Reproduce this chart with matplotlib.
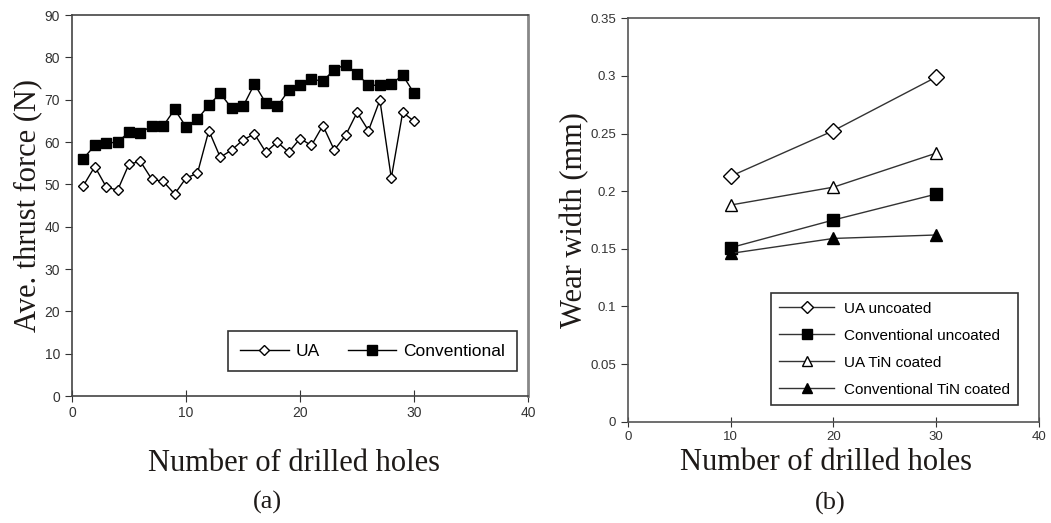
import numpy as np
import matplotlib.pyplot as plt

plt.rcParams['font.family'] = 'Liberation Sans'

# (a) average thrust force per hole
holes = list(range(1, 31))
ua_force = [49.7, 54.2, 49.4, 48.6, 54.8, 55.4, 51.2, 50.7, 47.7, 51.5,
            52.6, 62.7, 56.4, 58.1, 60.5, 61.9, 57.6, 60.0, 57.6, 60.8,
            59.2, 63.9, 58.1, 61.6, 67.0, 62.7, 69.9, 51.5, 67.0, 64.9]
conv_force = [56.1, 59.2, 59.7, 60.0, 62.3, 62.2, 63.8, 63.8, 67.7, 63.6,
              65.4, 68.7, 71.5, 68.0, 68.4, 73.7, 69.2, 68.4, 72.2, 73.4,
              74.8, 74.4, 77.1, 78.3, 76.1, 73.4, 73.4, 73.7, 75.8, 71.5]

# (b) wear width
wear_holes = [10, 20, 30]
ua_uncoated = [0.213, 0.2525, 0.299]
conv_uncoated = [0.151, 0.175, 0.1975]
ua_tin = [0.188, 0.2035, 0.233]
conv_tin = [0.146, 0.159, 0.162]

serif = 'Liberation Serif'
lab_col = '#1e1a18'
tick_col = '#333333'

fig = plt.figure(figsize=(10.51, 5.23), dpi=100)

# ---- (a)
ax1 = fig.add_axes([0.0685, 0.2428, 0.434, 0.7285])
ax1.plot(holes, ua_force, color='black', lw=1, marker='D', ms=5.5,
         mfc='white', mec='black', mew=1, label='UA')
ax1.plot(holes, conv_force, color='black', lw=1, marker='s', ms=7,
         mfc='black', mec='black', label='Conventional')
ax1.set_xlim(0, 40)
ax1.set_ylim(0, 90)
ax1.set_xticks([0, 10, 20, 30, 40])
ax1.set_yticks(np.arange(0, 91, 10))
ax1.tick_params(axis='x', direction='inout', length=8, labelsize=10, colors=tick_col)
ax1.tick_params(axis='y', direction='out', length=5, labelsize=10, colors=tick_col)
ax1.set_ylabel('Ave. thrust force (N)', fontsize=22, family=serif, color=lab_col, labelpad=2)
for s in ax1.spines.values():
    s.set_color('#444444')
    s.set_linewidth(1.2)
ax1.spines['right'].set_color('#888888')
ax1.spines['right'].set_linewidth(2)
leg1 = ax1.legend(loc='lower right', bbox_to_anchor=(0.976, 0.066), ncol=2,
                  fontsize=12.5, frameon=True, fancybox=False, edgecolor='black',
                  handlelength=2.8, columnspacing=1.6, borderpad=0.7,
                  handletextpad=0.4, borderaxespad=0)
leg1.get_frame().set_linewidth(1.2)
fig.text(0.28, 0.113, 'Number of drilled holes', ha='center', va='center',
         fontsize=22, family=serif, color=lab_col)
fig.text(0.254, 0.04, '(a)', ha='center', va='center', fontsize=19,
         family=serif, color=lab_col)

# ---- (b)
ax2 = fig.add_axes([0.5975, 0.1937, 0.391, 0.7713])
ax2.plot(wear_holes, ua_uncoated, color='#333333', lw=1, marker='D', ms=8,
         mfc='white', mec='black', label='UA uncoated')
ax2.plot(wear_holes, conv_uncoated, color='#333333', lw=1, marker='s', ms=9,
         mfc='black', mec='black', label='Conventional uncoated')
ax2.plot(wear_holes, ua_tin, color='#333333', lw=1, marker='^', ms=9,
         mfc='white', mec='black', label='UA TiN coated')
ax2.plot(wear_holes, conv_tin, color='#333333', lw=1, marker='^', ms=9,
         mfc='black', mec='black', label='Conventional TiN coated')
ax2.set_xlim(0, 40)
ax2.set_ylim(0, 0.35)
ax2.set_xticks([0, 10, 20, 30, 40])
ax2.set_yticks([0, 0.05, 0.1, 0.15, 0.2, 0.25, 0.3, 0.35])
ax2.set_yticklabels(['0', '0.05', '0.1', '0.15', '0.2', '0.25', '0.3', '0.35'])
ax2.tick_params(axis='x', direction='inout', length=7, labelsize=9.5, colors=tick_col)
ax2.tick_params(axis='y', direction='out', length=5, labelsize=9.5, colors=tick_col)
ax2.set_ylabel('Wear width (mm)', fontsize=22, family=serif, color=lab_col, labelpad=1)
for s in ax2.spines.values():
    s.set_color('#555555')
    s.set_linewidth(1.2)
leg2 = ax2.legend(loc='lower right', bbox_to_anchor=(0.949, 0.041), fontsize=11,
                  frameon=True, fancybox=False, edgecolor='black', markerscale=0.8,
                  handlelength=3.6, borderpad=0.55, labelspacing=0.85,
                  handletextpad=0.6, borderaxespad=0)
leg2.get_frame().set_linewidth(1.2)
fig.text(0.786, 0.115, 'Number of drilled holes', ha='center', va='center',
         fontsize=22, family=serif, color=lab_col)
fig.text(0.79, 0.038, '(b)', ha='center', va='center', fontsize=19,
         family=serif, color=lab_col)

fig.savefig('out.png', dpi=100)
